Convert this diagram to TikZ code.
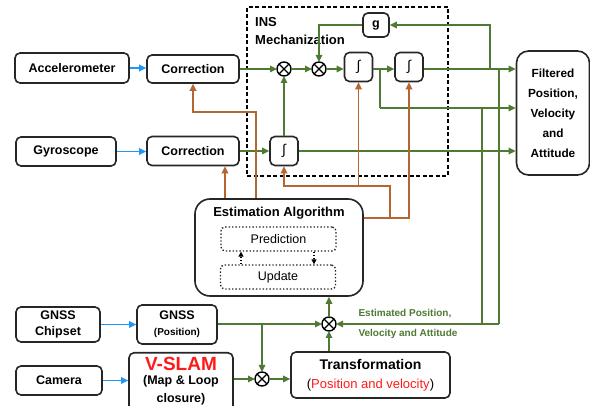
\documentclass[tikz,border=0pt]{standalone}
\usepackage{fontspec}
\setmainfont{Liberation Sans}
\usetikzlibrary{arrows.meta,calc}

\definecolor{sigblue}{HTML}{2196F3}
\definecolor{siggreen}{HTML}{4E7A34}
\definecolor{sigbrown}{HTML}{B5652F}
\definecolor{slamred}{HTML}{FF1A1A}

\begin{document}
\begin{tikzpicture}[x=1pt,y=-1pt,
  blk/.style={draw=black!85, line width=1.6pt, rounded corners=5pt, inner sep=1pt,
    align=center, font=\fontsize{12.5}{14}\selectfont\bfseries},
  intbox/.style={blk, minimum width=28pt, minimum height=29pt,
    font=\fontsize{14}{14}\selectfont},
  dbox/.style={draw=black!85, dotted, line width=1.4pt, rounded corners=4pt,
    minimum width=115pt, minimum height=24pt, font=\fontsize{12.5}{14}\selectfont},
  mult/.style={circle, draw=black, line width=1.4pt, minimum size=14pt, inner sep=0pt, outer sep=0pt},
  gline/.style={draw=siggreen, line width=1.6pt},
  garr/.style={gline, -{Triangle[length=7pt,width=6.5pt]}},
  barr/.style={draw=sigblue, line width=1.8pt, -{Triangle[length=7pt,width=6.5pt]}},
  oarr/.style={draw=sigbrown, line width=1.8pt, -{Triangle[length=7pt,width=6.5pt]}},
  darr/.style={draw=black, dotted, line width=1.2pt, -{Triangle[length=5pt,width=5pt]}},
  lbl/.style={anchor=west, text=siggreen, font=\fontsize{10}{11}\selectfont\bfseries},
]
\useasboundingbox (0,0) rectangle (590,406);
\fill[white] (0,0) rectangle (590,406);

% INS mechanization frame
\node[draw=black, line width=1.5pt, dash pattern=on 4pt off 2.5pt,
      minimum width=201pt, minimum height=169pt, inner sep=0pt] (ins) at (347.5,91.5) {};
\node[anchor=north west, align=left, inner sep=0pt,
      font=\fontsize{13}{18}\selectfont\bfseries] (institle) at (255,17.5) {INS\\Mechanization};

% sensor blocks
\node[blk, minimum width=114pt, minimum height=30pt] (acc) at (72,68) {Accelerometer};
\node[blk, minimum width=92pt, minimum height=28pt] (cor1) at (193,69) {Correction};
\node[blk, minimum width=100pt, minimum height=29pt] (gyro) at (66,151.5) {Gyroscope};
\node[blk, minimum width=92pt, minimum height=29pt] (cor2) at (193,151) {Correction};

% integrators and gravity
\node[intbox] (int1) at (284,151) {∫};
\node[intbox] (int2) at (358.5,67) {∫};
\node[intbox] (int3) at (409,67) {∫};
\node[blk, minimum width=26pt, minimum height=24pt] (g) at (376,25) {g};

% output block
\node[blk, rounded corners=12pt, minimum width=73pt, minimum height=124pt,
      font=\fontsize{11.8}{20}\selectfont\bfseries] (filt) at (553,113)
      {Filtered\\Position,\\Velocity\\and\\Attitude};

% estimation algorithm
\node[blk, rounded corners=15pt, minimum width=168pt, minimum height=97pt] (est) at (279,247.5) {};
\node[font=\fontsize{13}{15}\selectfont\bfseries] (esttitle) at (279,213) {Estimation Algorithm};
\node[dbox] (pred) at (278.5,239) {Prediction};
\node[dbox] (upd) at (278,277) {Update};

% GNSS and camera chain
\node[blk, minimum width=84pt, minimum height=35pt, font=\fontsize{12.5}{15.5}\selectfont\bfseries] (gnssc) at (58,324.5) {GNSS\\Chipset};
\node[blk, minimum width=80pt, minimum height=39pt, font=\fontsize{12.5}{16}\selectfont\bfseries] (gnssp) at (177,324.5)
      {GNSS\\{\fontsize{10}{11}\selectfont(Position)}};
\node[blk, minimum width=86pt, minimum height=29pt] (cam) at (59,380.5) {Camera};
\node[blk, minimum width=104pt, minimum height=70pt, anchor=north] (vslam) at (181,352) {};
\node[font=\fontsize{19}{20}\selectfont\bfseries, text=slamred] (vslamt) at (181,364) {V-SLAM};
\node[font=\fontsize{12.5}{18}\selectfont\bfseries, align=center] (vslamsub) at (181,390) {(Map \& Loop\\closure)};
\node[blk, minimum width=159pt, minimum height=46pt, font=\fontsize{14}{19}\selectfont\bfseries] (trans) at (370.5,375)
      {Transformation\\{\fontsize{13}{15}\selectfont\mdseries(\textcolor{slamred}{Position and velocity})}};

% multipliers
\node[mult] (ox1) at (284,69) {};
\node[mult] (ox2) at (319,69) {};
\node[mult] (ox3) at (329,324) {};
\node[mult] (ox4) at (262,379) {};
\foreach \m in {ox1,ox2,ox3,ox4}{
  \draw[line width=1.2pt] (\m.north west) -- (\m.south east) (\m.north east) -- (\m.south west);
}

% sensor inputs
\draw[barr] (acc.east) -- (acc.east -| cor1.west);
\draw[barr] (gyro.east) -- (gyro.east -| cor2.west);
\draw[barr] (gnssc.east) -- (gnssc.east -| gnssp.west);
\draw[barr] (cam.east) -- (cam.east -| vslam.west);

% mechanization signal path
\draw[garr] (cor1.east |- ox1) -- (ox1.west);
\draw[garr] (int1.north) -- (ox1.south);
\draw[garr] (cor2.east) -- (int1.west);
\draw[garr] (ox1.east) -- (ox2.west);
\draw[garr] (ox2.east) -- (ox2 -| int2.west);
\draw[garr] (int2.east |- ox2) -- (ox2 -| int3.west);
\draw[garr] (int3.east |- ox2) -- (ox2 -| filt.west);
\coordinate (vsplit) at (380,69);
\coordinate (vturn) at (380,108);
\draw[gline] (vsplit) -- (vturn);
\draw[garr] (vturn) -- (vturn -| filt.west);
\draw[garr] (int1.east) -- (int1.east -| filt.west);

% gravity feedback
\coordinate (gtap) at (490,69);
\draw[garr] (gtap) |- (g.east);
\draw[garr] (g.west) -| (ox2.north);

% estimated states back to the fusion point
\coordinate (fbp) at (499,69);
\coordinate (fbv) at (482,108);
\coordinate (fbc) at (499,324);
\draw[gline] (fbp) -- (fbc);
\draw[gline] (fbv) -- (fbv |- fbc);
\draw[garr] (fbc) -- (ox3.east);
\draw[garr] (gnssp.east |- ox3) -- (ox3.west);
\coordinate (gsplit) at (262,324);
\draw[garr] (gsplit) -- (ox4.north);
\draw[garr] (vslam.east |- ox4) -- (ox4.west);
\draw[garr] (ox4.east) -- (ox4 -| trans.west);
\draw[garr] (trans.north -| ox3) -- (ox3.south);
\draw[garr] (ox3.north) -- (ox3 |- est.south);

% corrections from the estimator
\coordinate (c2x) at (225,0);
\draw[oarr] (est.north -| c2x) -- (cor2.south -| c2x);
\coordinate (c1a) at (256,112);
\draw[oarr] (est.north -| c1a) -- (c1a) -| (cor1.south);
\coordinate (ea) at (409,218);
\draw[oarr] (est.east |- ea) -- (ea) -- (int3.south);
\coordinate (eb) at (390,218);
\coordinate (ec) at (390,186);
\draw[oarr] (eb) -- (ec) -| (int1.south);
\coordinate (ed) at (358.5,186);
\draw[oarr] (ed) -- (int2.south);

% prediction / update cycle
\coordinate (dup) at (241,0);
\coordinate (ddn) at (314,0);
\draw[darr] (upd.north -| dup) -- (pred.south -| dup);
\draw[darr] (pred.south -| ddn) -- (upd.north -| ddn);

% feedback label
\node[lbl] (estlab1) at (355,314) {Estimated Position,};
\node[lbl] (estlab2) at (355,334) {Velocity and Attitude};
\end{tikzpicture}
\end{document}
